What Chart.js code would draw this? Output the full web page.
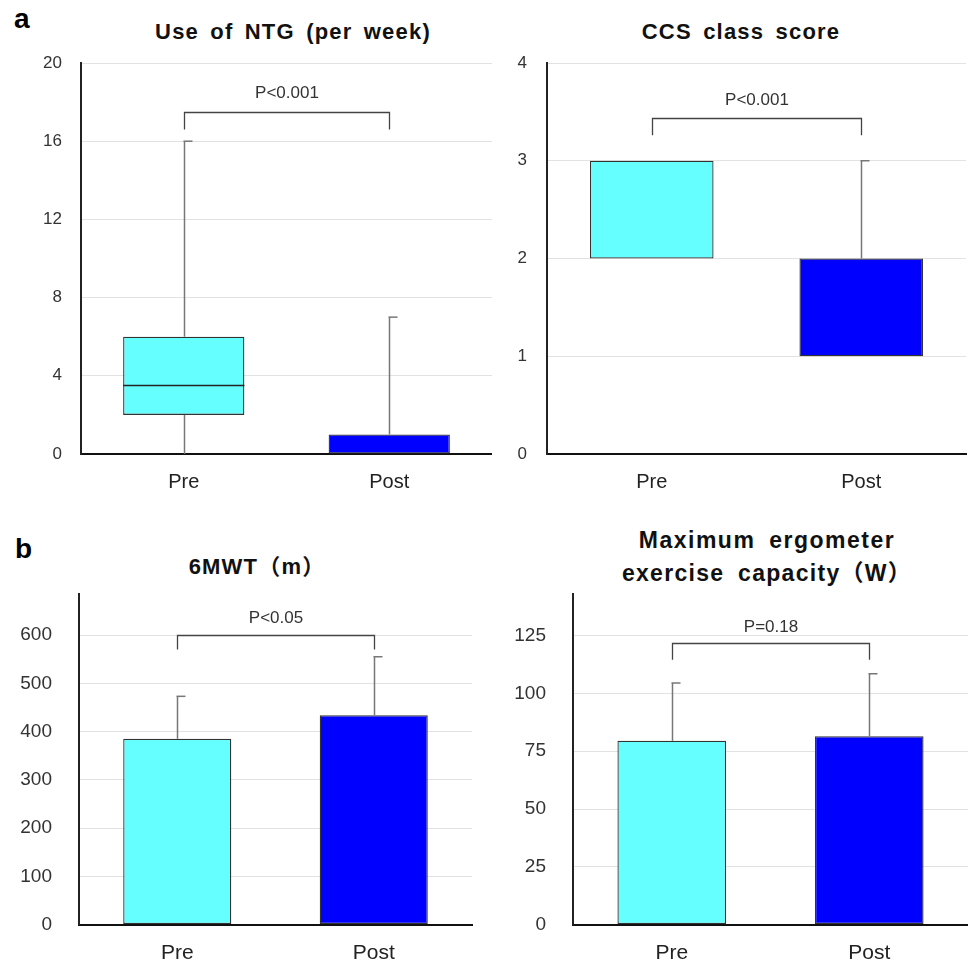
<!DOCTYPE html>
<html><head><meta charset="utf-8">
<script src="https://cdn.jsdelivr.net/npm/chart.js@4"></script>
<style>
body{margin:0;background:#fff;width:968px;height:963px;position:relative;overflow:hidden;font-family:"Liberation Sans",Arial,"Noto Sans CJK JP",sans-serif}
.c{position:absolute}
.t{position:absolute;transform:translate(-50%,-50%);font-weight:bold;font-size:22px;letter-spacing:1.2px;word-spacing:4px;line-height:1;white-space:nowrap;color:#111}
.L{position:absolute;font-weight:bold;font-size:28px;line-height:1;color:#000}
</style></head><body>
<div class="L" style="left:14px;top:5px">a</div>
<div class="L" style="left:15px;top:535px">b</div>
<div class="t" style="left:293px;top:32px">Use of NTG (per week)</div>
<div class="t" style="left:741px;top:32px">CCS class score</div>
<div class="t" style="left:257px;top:567px">6MWT（m）</div>
<div class="t" style="left:767px;top:540px;font-size:23px;letter-spacing:1.5px;word-spacing:6px">Maximum ergometer</div>
<div class="t" style="left:767px;top:573px;font-size:23px;letter-spacing:1.3px;word-spacing:6px">exercise capacity（W）</div>
<canvas id="c1" class="c" style="left:0;top:0"></canvas>
<canvas id="c2" class="c" style="left:492px;top:0"></canvas>
<canvas id="c3" class="c" style="left:0;top:500px"></canvas>
<canvas id="c4" class="c" style="left:484px;top:500px"></canvas>
<script>
// ---- data ----
const groups = ['Pre', 'Post'];
const groupColors = ['#66ffff', '#0000ff'];

// Use of NTG (per week) - box plot
const ntgTicks = [0, 4, 8, 12, 16, 20];
const ntgMin = [0, 0];
const ntgQ1 = [2, 0];
const ntgMedian = [3.5, null];
const ntgQ3 = [6, 1];
const ntgMax = [16, 7];
const ntgP = 'P<0.001';
const ntgBracket = [17.5, 16.6, 18.45]; // bar level, leg end, label level

// CCS class score - box plot
const ccsTicks = [0, 1, 2, 3, 4];
const ccsMin = [2, 1];
const ccsQ1 = [2, 1];
const ccsMedian = [null, null];
const ccsQ3 = [3, 2];
const ccsMax = [3, 3];
const ccsP = 'P<0.001';
const ccsBracket = [3.44, 3.26, 3.62];

// 6MWT (m) - mean + SD
const walkTicks = [0, 100, 200, 300, 400, 500, 600];
const walkAxisMax = 685;
const walkMean = [385, 434];
const walkSD = [88, 121];
const walkP = 'P<0.05';
const walkBracket = [601, 570, 634];

// Maximum ergometer exercise capacity (W) - mean + SD
const ergoTicks = [0, 25, 50, 75, 100, 125];
const ergoAxisMax = 143;
const ergoMean = [79.5, 81.5];
const ergoSD = [25, 27];
const ergoP = 'P=0.18';
const ergoBracket = [121.8, 114.6, 128.8];

// ---- drawing ----
function annot(cfg) {
  return {
    id: 'annot',
    afterDatasetsDraw(chart) {
      const ctx = chart.ctx, xs = chart.scales.x, ys = chart.scales.y;
      const meta = chart.getDatasetMeta(0);
      ctx.save();
      ctx.lineCap = 'butt';
      for (let i = 0; i < groups.length; i++) {
        const cx = Math.round(xs.getPixelForValue(i)) + 0.5;
        ctx.strokeStyle = '#777';
        ctx.lineWidth = 1.5;
        const seg = (a, b, cap) => {
          const ya = ys.getPixelForValue(a), yb = ys.getPixelForValue(b);
          ctx.beginPath(); ctx.moveTo(cx, ya); ctx.lineTo(cx, yb); ctx.stroke();
          if (cap) { ctx.beginPath(); ctx.moveTo(cx - 1, yb); ctx.lineTo(cx + 8, yb); ctx.stroke(); }
        };
        if (cfg.box) {
          const b = cfg.box;
          if (b.max[i] > b.q3[i]) seg(b.q3[i], b.max[i], true);
          if (b.min[i] < b.q1[i]) seg(b.q1[i], b.min[i], false);
          if (b.med[i] != null) {
            const el = meta.data[i];
            const ym = ys.getPixelForValue(b.med[i]);
            ctx.strokeStyle = '#222'; ctx.lineWidth = 1.5;
            ctx.beginPath(); ctx.moveTo(el.x - el.width / 2, ym); ctx.lineTo(el.x + el.width / 2, ym); ctx.stroke();
          }
        }
        if (cfg.err) {
          seg(cfg.err.mean[i], cfg.err.mean[i] + cfg.err.sd[i], true);
        }
      }
      // bracket
      const [top, leg, lab] = cfg.bracket;
      const lx = Math.round(xs.getPixelForValue(0)) + 0.5, rx = Math.round(xs.getPixelForValue(1)) + 0.5;
      const yt = Math.round(ys.getPixelForValue(top)) + 0.5, yl = ys.getPixelForValue(leg);
      ctx.strokeStyle = '#444'; ctx.lineWidth = 1.3;
      ctx.beginPath(); ctx.moveTo(lx, yl); ctx.lineTo(lx, yt); ctx.lineTo(rx, yt); ctx.lineTo(rx, yl); ctx.stroke();
      ctx.fillStyle = '#333';
      ctx.font = '17px "Liberation Sans", Arial, sans-serif';
      ctx.textAlign = 'center'; ctx.textBaseline = 'middle';
      ctx.fillText(cfg.p, (lx + rx) / 2, ys.getPixelForValue(lab));
      ctx.restore();
    }
  };
}

function makeChart(id, L, data, ticks, axisMax, cfg) {
  const cv = document.getElementById(id);
  cv.width = L.w; cv.height = L.h;
  cv.style.width = L.w + 'px'; cv.style.height = L.h + 'px';
  return new Chart(cv, {
    type: 'bar',
    data: {
      labels: groups,
      datasets: [{
        data: data,
        backgroundColor: groupColors,
        borderColor: '#333',
        borderWidth: 1.3,
        borderSkipped: false,
        categoryPercentage: 1,
        barPercentage: L.bar
      }]
    },
    options: {
      responsive: false,
      animation: false,
      events: [],
      layout: { padding: { top: L.top, right: L.right, bottom: 0, left: 0 } },
      plugins: { legend: { display: false }, tooltip: { enabled: false }, title: { display: false } },
      scales: {
        x: {
          grid: { display: false, drawTicks: false },
          border: { display: true, color: '#111', width: 2 },
          ticks: { color: '#222', padding: L.xpad, font: { family: '"Liberation Sans", Arial, sans-serif', size: L.xf } },
          afterFit: s => { s.height = L.xh; }
        },
        y: {
          min: 0, max: axisMax,
          grid: { color: '#e2e2e2', lineWidth: 1, drawTicks: false },
          border: { display: true, color: '#222', width: 2 },
          ticks: { color: '#333', padding: L.ypad, font: { family: '"Liberation Sans", Arial, sans-serif', size: L.tf } },
          afterBuildTicks: s => { s.ticks = ticks.map(v => ({ value: v })); },
          afterFit: s => { s.width = L.yw; }
        }
      }
    },
    plugins: [annot(cfg)]
  });
}

const boxData = (q1, q3) => groups.map((g, i) => [q1[i], q3[i]]);

makeChart('c1', { w: 492, h: 500, top: 63, right: 0, xh: 46, xpad: 16, xf: 20, yw: 81, ypad: 19, bar: 0.59, tf: 17 },
  boxData(ntgQ1, ntgQ3), ntgTicks, ntgTicks[ntgTicks.length - 1],
  { box: { min: ntgMin, q1: ntgQ1, med: ntgMedian, q3: ntgQ3, max: ntgMax }, bracket: ntgBracket, p: ntgP });

makeChart('c2', { w: 476, h: 500, top: 63, right: 2, xh: 46, xpad: 16, xf: 20, yw: 55, ypad: 20, bar: 0.59, tf: 17 },
  boxData(ccsQ1, ccsQ3), ccsTicks, ccsTicks[ccsTicks.length - 1],
  { box: { min: ccsMin, q1: ccsQ1, med: ccsMedian, q3: ccsQ3, max: ccsMax }, bracket: ccsBracket, p: ccsP });

makeChart('c3', { w: 484, h: 463, top: 94, right: 12, xh: 36, xpad: 16, xf: 21, yw: 79, ypad: 27, bar: 0.55, tf: 19 },
  walkMean, walkTicks, walkAxisMax,
  { err: { mean: walkMean, sd: walkSD }, bracket: walkBracket, p: walkP });

makeChart('c4', { w: 484, h: 463, top: 94, right: 0, xh: 36, xpad: 16, xf: 21, yw: 89, ypad: 27, bar: 0.55, tf: 19 },
  ergoMean, ergoTicks, ergoAxisMax,
  { err: { mean: ergoMean, sd: ergoSD }, bracket: ergoBracket, p: ergoP });
</script>
</body></html>
